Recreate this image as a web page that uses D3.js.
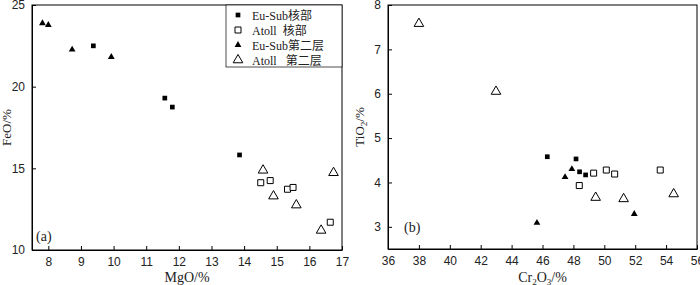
<!DOCTYPE html>
<html>
<head>
<meta charset="utf-8">
<script src="https://cdn.jsdelivr.net/npm/d3@7"></script>
<style>
  body { margin: 0; background: #fff; }
  svg { display: block; font-family: "Liberation Serif", "Noto Sans CJK SC", serif; }
  .tick text { font-size: 12px; fill: #222; }
  .tick line, .domain { stroke: #000; }
</style>
</head>
<body>
<svg id="chart" width="700" height="285"></svg>
<script>
// (a) MgO vs FeO
var euCoreA = [[9.38, 22.5], [11.57, 19.3], [11.8, 18.75], [13.86, 15.82]];
var atollCoreA = [[14.51, 14.12], [14.8, 14.25], [15.33, 13.72], [15.5, 13.83], [16.64, 11.7]];
var euLayerA = [[7.82, 23.88], [8.0, 23.78], [8.73, 22.27], [9.93, 21.82]];
var atollLayerA = [[14.58, 14.88], [14.9, 13.3], [15.6, 12.75], [16.36, 11.2], [16.74, 14.73]];
var xTicksA = [8, 9, 10, 11, 12, 13, 14, 15, 16, 17];
var yTicksA = [10, 15, 20, 25];

// (b) Cr2O3 vs TiO2
var euCoreB = [[46.31, 4.58], [48.17, 4.53], [48.4, 4.24], [48.79, 4.17]];
var atollCoreB = [[49.31, 4.21], [48.38, 3.93], [50.13, 4.28], [50.67, 4.19], [53.62, 4.28]];
var euLayerB = [[47.46, 4.12], [47.9, 4.3], [45.64, 3.09], [51.94, 3.29]];
var atollLayerB = [[38.0, 7.58], [42.99, 6.05], [49.44, 3.66], [51.25, 3.63], [54.49, 3.74]];
var xTicksB = [36, 38, 40, 42, 44, 46, 48, 50, 52, 54, 56];
var yTicksB = [3, 4, 5, 6, 7, 8];

var legendLabels = ["Eu-Sub核部", "Atoll\u00a0\u00a0核部", "Eu-Sub第二层", "Atoll\u00a0\u00a0\u00a0第二层"];

var svg = d3.select("#chart");

var styles = [
  { type: d3.symbolSquare, size: 22, fill: "#000", stroke: "none" },
  { type: d3.symbolSquare, size: 36, fill: "#fff", stroke: "#000" },
  { type: d3.symbolTriangle, size: 20, fill: "#000", stroke: "none" },
  { type: d3.symbolTriangle, size: 40, fill: "#fff", stroke: "#000" }
];

function drawPanel(opt) {
  var x = d3.scaleLinear().domain(opt.xDomain).range([opt.left, opt.right]);
  var y = d3.scaleLinear().domain(opt.yDomain).range([opt.bottom, opt.top]);
  var g = svg.append("g");

  g.append("g")
    .attr("transform", "translate(0," + opt.bottom + ")")
    .call(d3.axisBottom(x).tickValues(opt.xTicks).tickSize(-4).tickSizeOuter(0).tickPadding(7).tickFormat(d3.format("d")));
  g.append("g")
    .attr("transform", "translate(" + opt.left + ",0)")
    .call(d3.axisLeft(y).tickValues(opt.yTicks).tickSize(-4).tickSizeOuter(0).tickPadding(7).tickFormat(d3.format("d")));

  g.append("rect")
    .attr("x", opt.left).attr("y", opt.top)
    .attr("width", opt.right - opt.left).attr("height", opt.bottom - opt.top)
    .attr("fill", "none").attr("stroke", "#000").attr("stroke-width", 1);

  opt.series.forEach(function(data, i) {
    var s = styles[i];
    g.selectAll(null).data(data).enter().append("path")
      .attr("d", d3.symbol().type(s.type).size(s.size))
      .attr("transform", function(d) { return "translate(" + x(d[0]) + "," + y(d[1]) + ")"; })
      .attr("fill", s.fill).attr("stroke", s.stroke).attr("stroke-width", 1);
  });

  g.append("text").attr("x", opt.tagX).attr("y", opt.tagY)
    .attr("font-size", 14).attr("fill", "#222").text(opt.tag);

  g.append("text")
    .attr("x", (opt.left + opt.right) / 2).attr("y", 282)
    .attr("text-anchor", "middle").attr("font-size", 14).attr("fill", "#222")
    .html(opt.xLabel);
  g.append("text")
    .attr("transform", "translate(" + opt.yLabelX + "," + ((opt.top + opt.bottom) / 2) + ") rotate(-90)")
    .attr("text-anchor", "middle").attr("font-size", 13).attr("fill", "#222")
    .html(opt.yLabel);
  return { x: x, y: y };
}

drawPanel({
  xDomain: [7.5, 17], yDomain: [10, 25],
  left: 32, right: 342, top: 5, bottom: 250,
  xTicks: xTicksA, yTicks: yTicksA,
  series: [euCoreA, atollCoreA, euLayerA, atollLayerA],
  tag: "(a)", tagX: 36, tagY: 241,
  xLabel: "MgO/%", yLabel: "FeO/%", yLabelX: 11
});

drawPanel({
  xDomain: [36, 56], yDomain: [2.5, 8],
  left: 388, right: 697, top: 5, bottom: 249,
  xTicks: xTicksB, yTicks: yTicksB,
  series: [euCoreB, atollCoreB, euLayerB, atollLayerB],
  tag: "(b)", tagX: 404, tagY: 232,
  xLabel: "Cr<tspan font-size='9' dy='3'>2</tspan><tspan dy='-3'>O</tspan><tspan font-size='9' dy='3'>3</tspan><tspan dy='-3'>/%</tspan>",
  yLabel: "TiO<tspan font-size='9' dy='3'>2</tspan><tspan dy='-3'>/%</tspan>", yLabelX: 364
});

// legend
var lg = svg.append("g");
lg.append("rect").attr("x", 226).attr("y", 5).attr("width", 116).attr("height", 62)
  .attr("fill", "#fff").attr("stroke", "#000").attr("stroke-width", 0.7);
legendLabels.forEach(function(label, i) {
  var s = styles[i];
  var yy = 15 + i * 15;
  lg.append("path")
    .attr("d", d3.symbol().type(s.type).size(s.size))
    .attr("transform", "translate(238," + yy + ")")
    .attr("fill", s.fill).attr("stroke", s.stroke);
  lg.append("text").attr("x", 252).attr("y", yy + 4.5)
    .attr("font-size", 12).attr("fill", "#222")
    .text(label);
});
</script>
</body>
</html>
